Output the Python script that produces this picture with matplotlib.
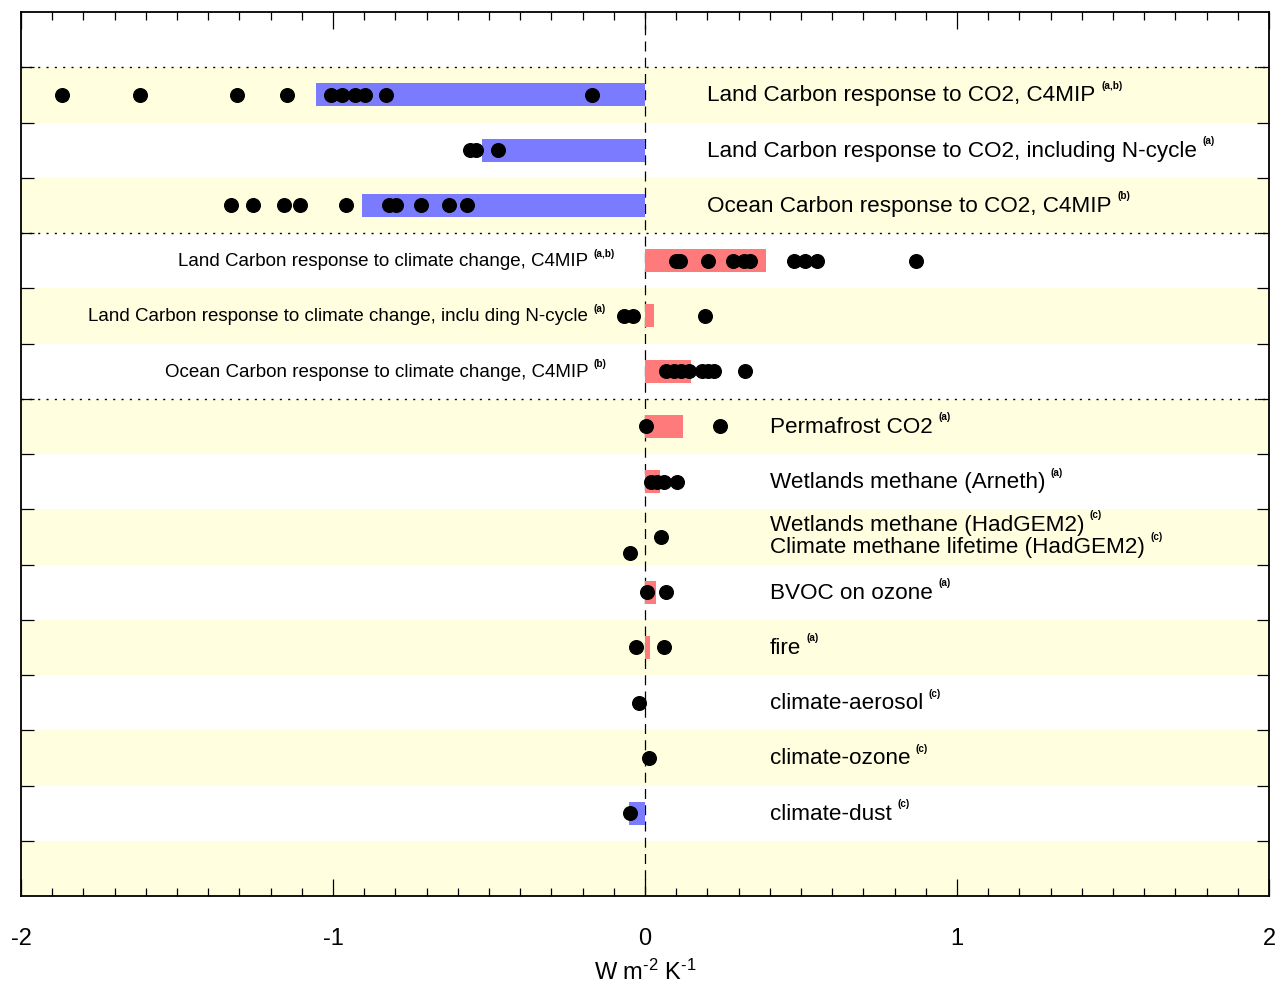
import matplotlib
matplotlib.use("Agg")
import matplotlib.pyplot as plt
from matplotlib.ticker import MultipleLocator, FixedLocator

plt.rcParams['font.family'] = ['Liberation Sans', 'DejaVu Sans']
plt.rcParams['mathtext.default'] = 'regular'
plt.rcParams['axes.unicode_minus'] = False

# Feedback terms (W m-2 K-1): multi-model mean bars and individual model estimates
labels = [
    "Land Carbon response to CO2, C4MIP",
    "Land Carbon response to CO2, including N-cycle",
    "Ocean Carbon response to CO2, C4MIP",
    "Land Carbon response to climate change, C4MIP",
    "Land Carbon response to climate change, inclu ding N-cycle",
    "Ocean Carbon response to climate change, C4MIP",
    "Permafrost CO2",
    "Wetlands methane (Arneth)",
    "Wetlands methane (HadGEM2)",
    "BVOC on ozone",
    "fire",
    "climate-aerosol",
    "climate-ozone",
    "climate-dust",
]
notes = ["(a,b)", "(a)", "(b)", "(a,b)", "(a)", "(b)", "(a)", "(a)", "(c)",
         "(a)", "(a)", "(c)", "(c)", "(c)"]

bar_means = [-1.053, -0.522, -0.907, 0.387, 0.029, 0.146, 0.123, 0.049,
             None, 0.034, 0.017, None, None, -0.050]

model_values = [
    [-1.869, -1.619, -1.309, -1.149, -1.008, -0.970, -0.931, -0.899, -0.829, -0.170],
    [-0.560, -0.541, -0.470],
    [-1.328, -1.258, -1.158, -1.107, -0.958, -0.820, -0.797, -0.717, -0.627, -0.570],
    [0.099, 0.112, 0.202, 0.282, 0.317, 0.336, 0.477, 0.512, 0.550, 0.870],
    [-0.067, -0.038, 0.192],
    [0.067, 0.093, 0.115, 0.141, 0.182, 0.202, 0.221, 0.320],
    [0.002, 0.240],
    [0.019, 0.037, 0.061, 0.103],
    [0.051],
    [0.005, 0.066],
    [-0.029, 0.061],
    [-0.018],
    [0.012],
    [-0.049],
]

# second term sharing the HadGEM2 wetlands row
lifetime_label = "Climate methane lifetime (HadGEM2)"
lifetime_note = "(c)"
lifetime_values = [-0.048]

BLUE = "#7b7bff"
RED = "#ff7b7b"
YELLOW = "#ffffe0"

BIG = 16.2
SMALL = 13.5
NOTE = 7.2

fig = plt.figure(figsize=(12.79, 9.87), dpi=100)
ax = fig.add_axes([21 / 1279, 90 / 987, 1248 / 1279, 884 / 987])
ax.set_xlim(-2, 2)
nbands = len(labels) + 2
ax.set_ylim(nbands, 0)

# alternating background bands
for b in range(nbands):
    if b % 2 == 1:
        ax.axhspan(b, b + 1, color=YELLOW, lw=0, zorder=0)

# group separators
for yb in (1, 4, 7):
    ax.axhline(yb, color="black", ls=(0, (1.5, 4.5)), lw=1.0, zorder=1)

ax.axvline(0, color="black", ls=(0, (8, 5)), lw=0.9, zorder=1)


def add_note(artist, note):
    ax.annotate(note, xy=(1, 1), xycoords=artist, xytext=(4, -4),
                textcoords="offset points", fontsize=NOTE, fontweight="bold",
                ha="left", va="bottom", zorder=4)


bar_h = 0.42
for i, lab in enumerate(labels):
    yc = i + 1.5
    m = bar_means[i]
    if m is not None:
        ax.barh(yc, m, height=bar_h, color=BLUE if m < 0 else RED,
                lw=0, zorder=2)
    vals = model_values[i]
    ax.plot(vals, [yc] * len(vals), "o", color="black", ms=9.8, zorder=3)

    if i < 3:
        t = ax.text(0.2, yc, lab, fontsize=BIG, ha="left", va="center",
                    zorder=4)
    elif i < 6:
        t = ax.text(-0.182, yc, lab, fontsize=SMALL, ha="right", va="center",
                    zorder=4)
    elif i == 8:
        t = ax.text(0.4, yc - 0.23, lab, fontsize=BIG, ha="left",
                    va="center", zorder=4)
    else:
        t = ax.text(0.4, yc, lab, fontsize=BIG, ha="left", va="center",
                    zorder=4)
    add_note(t, notes[i])

# methane lifetime term in the same row as HadGEM2 wetlands
yl = 9 + 0.5 + 0.29
ax.plot(lifetime_values, [yl] * len(lifetime_values), "o", color="black",
        ms=9.8, zorder=3)
t2 = ax.text(0.4, 9.5 + 0.17, lifetime_label, fontsize=BIG, ha="left",
             va="center", zorder=4)
add_note(t2, lifetime_note)

# ticks
ax.xaxis.set_major_locator(FixedLocator([-2, -1, 0, 1, 2]))
ax.xaxis.set_minor_locator(MultipleLocator(0.1))
ax.set_xticklabels(["-2", "-1", "0", "1", "2"])
ax.tick_params(axis="x", which="major", direction="in", length=12, width=0.9,
               top=True, bottom=True, labelsize=17, pad=22)
ax.tick_params(axis="x", which="minor", direction="in", length=6, width=0.9,
               top=True, bottom=True)
ax.yaxis.set_major_locator(FixedLocator(range(1, nbands)))
ax.yaxis.set_minor_locator(FixedLocator([]))
ax.tick_params(axis="y", which="major", direction="in", length=9, width=0.9,
               left=True, right=True, labelleft=False)
for s in ax.spines.values():
    s.set_linewidth(1.3)

ax.set_xlabel("W m$^{\u20102}$ K$^{\u20101}$", fontsize=17, labelpad=7)

fig.savefig("out.png", dpi=100)
